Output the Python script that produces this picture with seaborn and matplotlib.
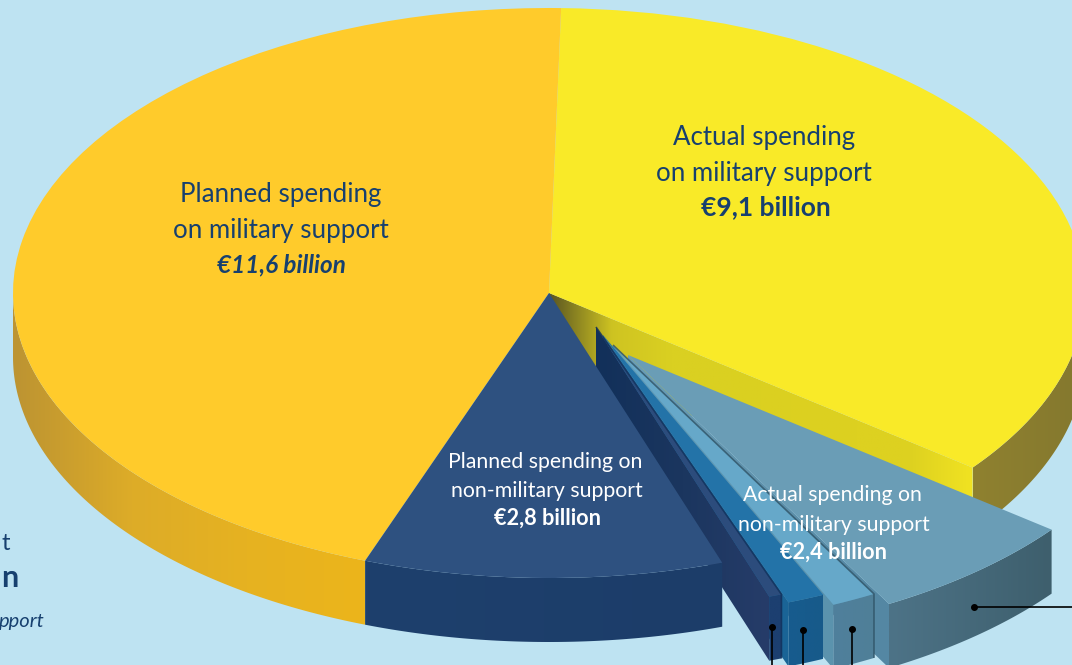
#!/usr/bin/env python3
# -*- coding: utf-8 -*-
import numpy as np
import seaborn as sns
import matplotlib.pyplot as plt
from matplotlib.patches import Polygon

# Spending in billion euro, clockwise from the top.
# The 2.4 billion of actual non-military support is split in four slices.
slices = ['actual_military', 'actual_nm_1', 'actual_nm_2', 'actual_nm_3', 'actual_nm_4',
          'planned_nm', 'planned_military']
values = [9.1, 1.66, 0.35, 0.29, 0.10, 2.8, 11.6]
top_colors = ['#F9EA28', '#6A9DB6', '#66A8C9', '#2373A8', '#2C4C7C', '#2E5180', '#FFCB2B']

BG = '#BEE3F2'
NAVY = '#17406F'
W, H = 1072, 665
CX, CY, RX, RY = 549, 293, 536, 285
DEPTH = 64 / RY


def ux(px):
    return (px - CX) / RX


def uy(py):
    return (CY - py) / RY


sns.set_theme(style='white', rc={'figure.facecolor': BG, 'axes.facecolor': BG})
plt.rcParams['font.family'] = ['Lato', 'DejaVu Sans']

fig = plt.figure(figsize=(W / 100, H / 100), dpi=100)
ax = fig.add_axes([0, 0, 1, 1])

wedges, _ = ax.pie(values, colors=top_colors, startangle=88.7, counterclock=False,
                   wedgeprops={'linewidth': 0})


def shaded(pts, colors, z):
    # fill a polygon with a left to right gradient
    pts = np.array(pts)
    pal = np.array(sns.blend_palette(colors, 64))[None, :, :3]
    ext = (pts[:, 0].min(), pts[:, 0].max(), pts[:, 1].min(), pts[:, 1].max())
    im = ax.imshow(pal, extent=ext, aspect='auto', interpolation='bilinear', zorder=z)
    im.set_clip_path(Polygon(pts, transform=ax.transData))


def outer_wall(center, t1, t2, colors, z):
    # curved side of a slice
    th = np.radians(np.linspace(t1, t2, 90))
    x = center[0] + np.cos(th)
    y = center[1] + np.sin(th)
    pts = list(zip(x, y)) + list(zip(x[::-1], y[::-1] - DEPTH))
    shaded(pts, colors, z)


def cut_wall(center, t, colors, z):
    # flat side of a slice along the radius at angle t
    ex = center[0] + np.cos(np.radians(t))
    ey = center[1] + np.sin(np.radians(t))
    pts = [center, (ex, ey), (ex, ey - DEPTH), (center[0], center[1] - DEPTH)]
    shaded(pts, colors, z)


main = (0, 0)
yellow, nm1, nm2, nm3, nm4, dark, orange = wedges

# main pie, back to front
cut_wall(main, yellow.theta1, ['#5F5A22', '#CFC421', '#DAD021', '#DAD021', '#DCD020', '#DDD120',
                               '#DDD120', '#F0E222'], 1)
outer_wall(main, yellow.theta1, 0, ['#8F8130', '#84782E'], 1)
yellow.set_zorder(2)
outer_wall(main, -180, orange.theta2, ['#BD9432', '#DDAC28', '#E6B221', '#ECB51B'], 3)
orange.set_zorder(4)

# the split slices are pulled out, each by its own offset
centers = [(628, 355), (613, 345), (603, 335), (596, 327)]
group = [nm1, nm2, nm3, nm4]
cut_colors = [['#6A9DB6', '#5487A3'], ['#5F9BB8', '#5B93AD'], ['#1F6CA0', '#1A6496'],
              ['#12305A', '#1B365F', '#263C69']]
arc_colors = [['#4D7387', '#3E5F6D'], ['#4F809C', '#4F7F98'], ['#175C8E', '#175A8A'],
              ['#1C3F70', '#1C3F70']]
seams = [None, '#2F5366', None, '#12305A']
z = 5
for w, c, cc, ac, seam in zip(group, centers, cut_colors, arc_colors, seams):
    uc = (ux(c[0]), uy(c[1]))
    cut_wall(uc, w.theta1, cc, z)
    outer_wall(uc, w.theta1, w.theta2, ac, z)
    w.set_center(uc)
    w.set_zorder(z + 0.1)
    if seam:
        # dark seam on the right edge of the slice
        t = np.radians(w.theta2)
        ex, ey = uc[0] + np.cos(t), uc[1] + np.sin(t)
        ax.plot([uc[0], ex, ex], [uc[1], ey, ey - DEPTH], color=seam, lw=1.2, alpha=0.8, zorder=z + 0.2,
                solid_capstyle='butt')
    z += 1

# the planned non-military slice stays in front of the pulled out ones
outer_wall(main, dark.theta1, dark.theta2, ['#1E406D', '#1C3D69'], z)
dark.set_zorder(z + 0.1)

# leader lines
for px, py in [(772, 627), (803, 630), (852, 629)]:
    ax.plot([ux(px), ux(px)], [uy(py), uy(H)], color='black', lw=1.2, zorder=12)
    ax.plot(ux(px), uy(py), 'o', color='black', ms=4, zorder=12)
ax.plot([ux(974), ux(W)], [uy(607), uy(607)], color='black', lw=1.2, zorder=12)
ax.plot(ux(974), uy(607), 'o', color='black', ms=4, zorder=12)

ax.set_aspect('auto')
ax.set_xlim(ux(0), ux(W))
ax.set_ylim(uy(H), uy(0))
ax.axis('off')


def label(px, py, s, color, size, **kw):
    ax.text(ux(px), uy(py), s, color=color, fontsize=size, ha=kw.pop('ha', 'center'), va='center',
            zorder=15, **kw)


label(764, 138, 'Actual spending', NAVY, 18.6, fontweight='normal')
label(764, 173, 'on military support', NAVY, 18.6, fontweight='normal')
label(766, 207, '€9,1 billion', NAVY, 19, fontweight='bold')

label(281, 194, 'Planned spending', NAVY, 18.6, fontweight='normal')
label(281, 230, 'on military support', NAVY, 18.6, fontweight='normal')
label(281, 265, '€11,6 billion', NAVY, 17.5, fontweight='bold', fontstyle='italic')

label(545, 462, 'Planned spending on', 'white', 15.3, fontweight='normal')
label(547, 491, 'non-military support', 'white', 15.3, fontweight='normal')
label(547, 518, '€2,8 billion', 'white', 15.6, fontweight='bold')

label(832, 495, 'Actual spending on', 'white', 15.3, fontweight='normal')
label(834, 525, 'non-military support', 'white', 15.3, fontweight='normal')
label(833, 552, '€2,4 billion', 'white', 15.6, fontweight='bold')

# what is left of a text cut off by the left edge of the picture
label(10, 544, 't', NAVY, 17, ha='right', fontweight='normal')
label(18, 578, 'n', NAVY, 22, ha='right', fontweight='bold')
label(45, 621, 'pport', NAVY, 14.5, ha='right', fontstyle='italic', fontweight='normal')

plt.savefig('out.png', dpi=100, facecolor=BG)
